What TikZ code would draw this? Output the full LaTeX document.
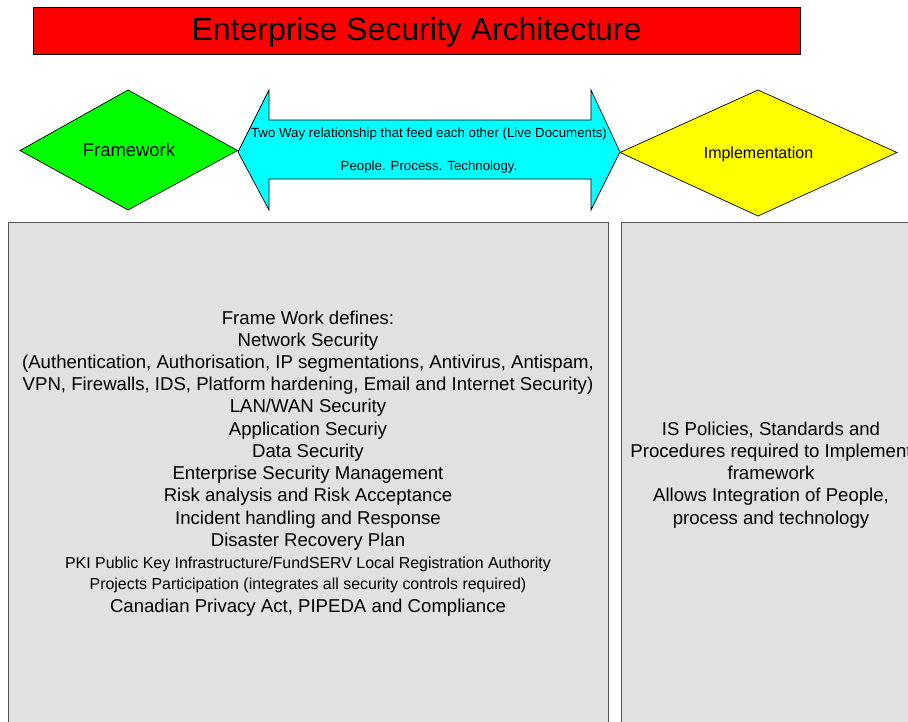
\documentclass[tikz,border=0pt]{standalone}
\usepackage{fontspec}
\setmainfont{Liberation Sans}
\definecolor{boxgray}{HTML}{E1E1E1}
\definecolor{edgegray}{HTML}{555555}
\definecolor{pureaqua}{RGB}{0,255,255}
\definecolor{puregreen}{RGB}{0,255,0}
\definecolor{pureyellow}{RGB}{255,255,0}
\definecolor{purered}{RGB}{255,0,0}
\tikzset{
  shapeline/.style={draw=black, line width=0.7pt},
  bodytext/.style={anchor=base, inner sep=0pt, font=\fontsize{18.6}{22}\selectfont},
  smalltext/.style={anchor=base, inner sep=0pt, font=\fontsize{15.9}{19}\selectfont},
  arrowtext/.style={anchor=base, inner sep=0pt, font=\fontsize{13.3}{16}\selectfont},
  panel/.style={draw=edgegray, fill=boxgray, line width=1pt}
}
\begin{document}
\begin{tikzpicture}[x=1pt,y=-1pt]
\useasboundingbox (0,0) rectangle (908,721);
\clip (0,0) rectangle (908,721);
% title
\node[shapeline, fill=purered, minimum width=767pt, minimum height=47pt, inner sep=0pt] (title) at (416.5,30.5) {};
\node[anchor=base, inner sep=0pt, font=\fontsize{32}{36}\selectfont] (titletext) at (416.5,40) {Enterprise Security Architecture};
% diamonds and arrow
\filldraw[shapeline, fill=puregreen] (20,150.5) -- (128,90) -- (237.5,150.5) -- (128,210) -- cycle;
\node[anchor=base, inner sep=0pt, font=\fontsize{18.4}{22}\selectfont] (fw) at (129,156.5) {Framework};
\filldraw[shapeline, fill=pureaqua] (238,152) -- (269,90) -- (269,120) -- (591,120) -- (591,90) -- (620,152) -- (591,210) -- (591,179) -- (269,179) -- (269,210) -- cycle;
\node[arrowtext] (arrowa) at (429,137.5) {Two Way relationship that feed each other (Live Documents)};
\node[arrowtext] (arrowb) at (429,170.5) {People. Process. Technology.};
\filldraw[shapeline, fill=pureyellow] (620,152.5) -- (758,90) -- (897,152.5) -- (758,216) -- cycle;
\node[anchor=base, inner sep=0pt, font=\fontsize{16}{19}\selectfont] (impl) at (758.5,158.5) {Implementation};
% panels
\draw[panel] (8.5,222) rectangle (608,760);
\draw[panel] (621,222) rectangle (930,760);
% left panel text
\node[bodytext] (l1) at (308,324) {Frame Work defines:};
\node[bodytext] (l2) at (308,346) {Network Security};
\node[bodytext] (l3) at (308,368) {(Authentication, Authorisation, IP segmentations, Antivirus, Antispam,};
\node[bodytext] (l4) at (308,390) {VPN, Firewalls, IDS, Platform hardening, Email and Internet Security)};
\node[bodytext] (l5) at (308,412) {LAN/WAN Security};
\node[bodytext] (l6) at (308,435) {Application Securiy};
\node[bodytext] (l7) at (308,457) {Data Security};
\node[bodytext] (l8) at (308,479) {Enterprise Security Management};
\node[bodytext] (l9) at (308,501) {Risk analysis and Risk Acceptance};
\node[bodytext] (l10) at (308,524) {Incident handling and Response};
\node[bodytext] (l11) at (308,546) {Disaster Recovery Plan};
\node[smalltext] (l12) at (308,568) {PKI Public Key Infrastructure/FundSERV Local Registration Authority};
\node[smalltext] (l13) at (308,589) {Projects Participation (integrates all security controls required)};
\node[bodytext] (l14) at (308,612) {Canadian Privacy Act, PIPEDA and Compliance};
% right panel text
\node[bodytext] (r1) at (771,435) {IS Policies, Standards and};
\node[bodytext] (r2) at (771,457) {Procedures required to Implement};
\node[bodytext] (r3) at (771,479) {framework};
\node[bodytext] (r4) at (771,501) {Allows Integration of People,};
\node[bodytext] (r5) at (771,524) {process and technology};
\end{tikzpicture}
\end{document}
